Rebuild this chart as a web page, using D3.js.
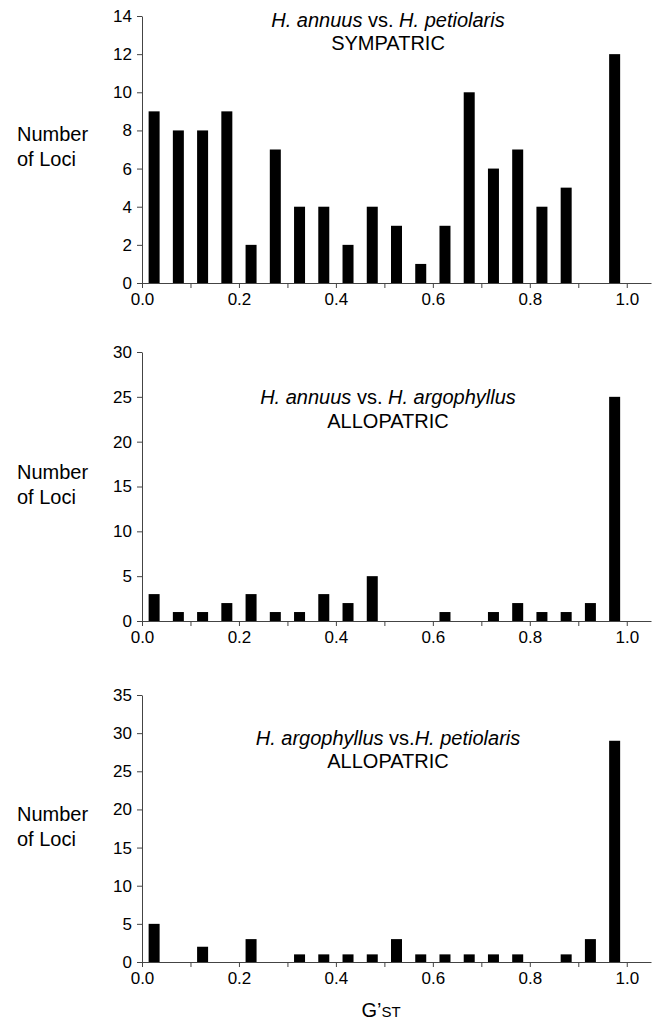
<!DOCTYPE html>
<html><head><meta charset="utf-8">
<script src="https://cdn.jsdelivr.net/npm/d3@7"></script>
<style>
body{margin:0;background:#fff;}
svg text{font-family:Arial,"Liberation Sans",sans-serif;fill:#000;}
</style></head>
<body>
<svg id="chart" width="654" height="1028"></svg>
<script>
// Bin start values (width 0.05)
const binStarts = [0.00,0.05,0.10,0.15,0.20,0.25,0.30,0.35,0.40,0.45,0.50,0.55,0.60,0.65,0.70,0.75,0.80,0.85,0.90,0.95];
const sympAnnPet = [9,8,8,9,2,7,4,4,2,4,3,1,3,10,6,7,4,5,0,12];
const alloAnnArg = [3,1,1,2,3,1,1,3,2,5,0,0,1,0,1,2,1,1,2,25];
const alloArgPet = [5,0,2,0,3,0,1,1,1,1,3,1,1,1,1,1,0,1,3,29];
const xTickValues = [0,0.1,0.2,0.3,0.4,0.5,0.6,0.7,0.8,0.9,1.0];
const xTickLabels = [0,0.2,0.4,0.6,0.8,1.0];
const titlesItalic = [
  [["H. annuus",true],[" vs. ",false],["H. petiolaris",true]],
  [["H. annuus",true],[" vs. ",false],["H. argophyllus",true]],
  [["H. argophyllus",true],[" vs.",false],["H. petiolaris",true]]
];
const titlesPlain = ["SYMPATRIC","ALLOPATRIC","ALLOPATRIC"];
const yMaxes = [14,30,35];
const ySteps = [2,5,5];
const seriesList = [sympAnnPet, alloAnnArg, alloArgPet];

const svg = d3.select("#chart");
const left = 142, right = 651;
const x = d3.scaleLinear().domain([0,1.05]).range([left,right]);
const panels = [
  {top:16, bottom:283, titleY:[27,50], locY:[141,166]},
  {top:352, bottom:621, titleY:[404,428], locY:[479,504]},
  {top:695, bottom:962, titleY:[745,768], locY:[821,846]}
];
const barW = 11;
const axisColor = "#444";

panels.forEach((p,i)=>{
  const g = svg.append("g");
  const y = d3.scaleLinear().domain([0,yMaxes[i]]).range([p.bottom,p.top]);
  const data = seriesList[i];
  g.selectAll("rect").data(data).join("rect")
    .attr("x",(d,j)=>x(binStarts[j]+0.025)-barW/2)
    .attr("width",barW)
    .attr("y",d=>y(d))
    .attr("height",d=>y(0)-y(d))
    .attr("fill","#000");

  const yAxis = d3.axisLeft(y).tickValues(d3.range(0,yMaxes[i]+0.001,ySteps[i])).tickSize(5).tickSizeOuter(0).tickPadding(5);
  const ya = g.append("g").attr("transform",`translate(${left},0)`).call(yAxis);
  ya.selectAll("text").style("font-size","17px");

  const xAxis = d3.axisBottom(x).tickValues(xTickValues).tickSize(5).tickSizeOuter(0).tickPadding(5)
    .tickFormat(d=> xTickLabels.some(v=>Math.abs(v-d)<1e-9) ? d3.format(".1f")(d) : "");
  const xa = g.append("g").attr("transform",`translate(0,${p.bottom})`).call(xAxis);
  xa.selectAll("text").style("font-size","17px");

  [ya,xa].forEach(a=>{
    a.selectAll("path,line").attr("stroke",axisColor).attr("stroke-width",1);
  });

  const cx = 388;
  const t1 = g.append("text").attr("x",cx).attr("y",p.titleY[0]).attr("text-anchor","middle").style("font-size","20px");
  titlesItalic[i].forEach(([s,it])=>{
    t1.append("tspan").text(s).style("font-style",it?"italic":"normal");
  });
  g.append("text").attr("x",cx).attr("y",p.titleY[1]).attr("text-anchor","middle").style("font-size","20px").text(titlesPlain[i]);

  g.append("text").attr("x",17).attr("y",p.locY[0]).style("font-size","20px").text("Number");
  g.append("text").attr("x",17).attr("y",p.locY[1]).style("font-size","20px").text("of Loci");
});

const xl = svg.append("text").attr("x",381).attr("y",1017).attr("text-anchor","middle").style("font-size","20px");
xl.append("tspan").text("G’");
xl.append("tspan").text("ST").style("font-size","15px");
</script>
</body></html>
